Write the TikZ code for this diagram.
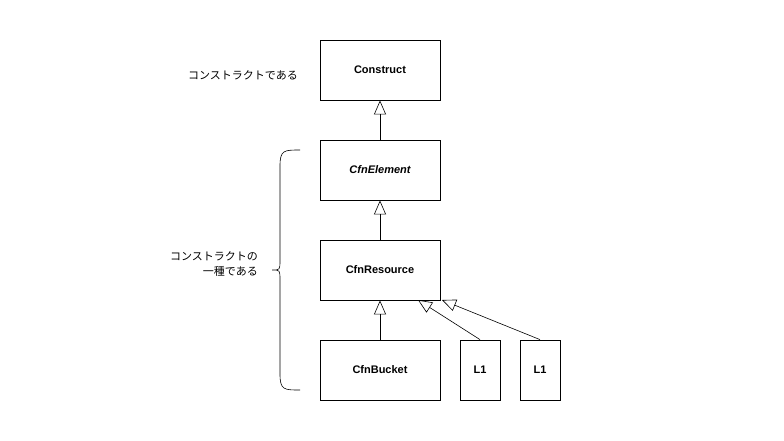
\documentclass[tikz,border=0pt]{standalone}
\usepackage{fontspec}
\setmainfont{Liberation Sans}
\newfontfamily\cjk{Noto Sans CJK JP}
\usetikzlibrary{arrows.meta,decorations.pathreplacing}
\begin{document}
\begin{tikzpicture}[x=1pt,y=-1pt,
  box/.style={draw,line width=0.8pt,fill=white,minimum width=120pt,minimum height=60pt,font=\bfseries\fontsize{11}{13}\selectfont,inner sep=0pt},
  sbox/.style={box,minimum width=40pt},
  inh/.style={draw,line width=0.6pt,-{Triangle[open,width=12pt,length=14pt]}},
  lbl/.style={font=\cjk\fontsize{11}{15}\selectfont,align=right,inner sep=0pt}]
\useasboundingbox (0,0) rectangle (784,440);
\node[box] (construct) at (380,70) {Construct};
\node[box,font=\bfseries\itshape\fontsize{11}{13}\selectfont] (element) at (380,170) {CfnElement};
\node[box] (resource) at (380,270) {CfnResource};
\node[box] (bucket) at (380,370) {CfnBucket};
\node[sbox] (l1a) at (480,370) {L1};
\node[sbox] (l1b) at (540,370) {L1};
\coordinate (ta) at (418,300);
\coordinate (tb) at (442,300);
\draw[inh] (element) -- (construct);
\draw[inh] (resource) -- (element);
\draw[inh] (bucket) -- (resource);
\draw[inh] (l1a.north) -- (ta);
\draw[inh] (l1b.north) -- (tb);
\node[lbl,anchor=east] (t1) at (298,75) {コンストラクトである};
\node[lbl,anchor=east] (t2) at (258,264) {コンストラクトの\\一種である};
\coordinate (b1) at (300,150);
\coordinate (b2) at (300,390);
\draw[line width=0.6pt] (b1) .. controls (284,150) and (280,150) .. (280,166) -- (280,260) .. controls (280,270) .. (272,270) .. controls (280,270) .. (280,280) -- (280,374) .. controls (280,390) and (284,390) .. (b2);
\end{tikzpicture}
\end{document}
